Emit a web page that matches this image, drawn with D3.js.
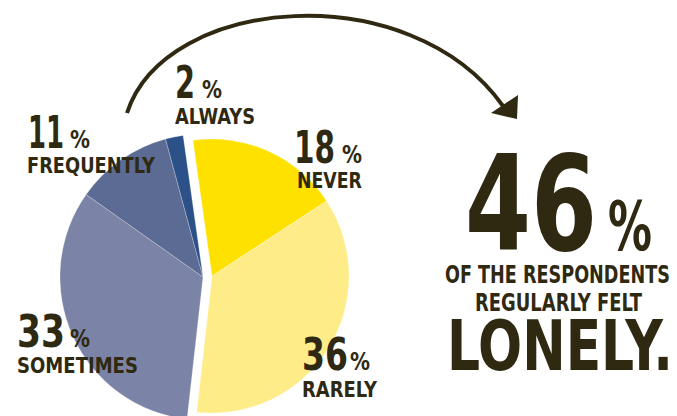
<!DOCTYPE html>
<html>
<head>
<meta charset="utf-8">
<script src="https://cdn.jsdelivr.net/npm/d3@7"></script>
<style>
  body { margin: 0; background: #fff; }
  text { font-family: "Liberation Sans Narrow", "DejaVu Sans Condensed", "Liberation Sans", sans-serif; font-weight: bold; fill: #2f2912; }
</style>
</head>
<body>
<div id="chart"></div>
<script>
// survey answers, clockwise from the top
var categories = ["NEVER", "RARELY", "SOMETIMES", "FREQUENTLY", "ALWAYS"];
var values = [18, 36, 33, 11, 2];
var groups = ["no", "no", "yes", "yes", "yes"];   // yes = regularly lonely
var headline = 46;
var headlineLines = ["OF THE RESPONDENTS", "REGULARLY FELT", "LONELY."];

var width = 677, height = 416;
var colors = ["#ffe100", "#feec88", "#7b83a6", "#5b6b93", "#2c5188"];

// two half pies, the "no" half is pulled out a little
var centers = { yes: [203, 277, 143], no: [212, 276, 137] };

// label layout: [num x, num baseline, num width, pct x, word x, word baseline, word width]
var labelPos = [
  [294, 163, 41, 342, 297, 188, 65],
  [302, 370, 46, 350, 302, 397, 75],
  [17, 347, 48, 70, 17, 373, 121],
  [28, 148, 36, 70, 27, 173, 128],
  [175, 98, 20, 202, 175, 124, 80]
];

var svg = d3.select("#chart").append("svg")
    .attr("width", width)
    .attr("height", height);

var deg = Math.PI / 180;
var pie = d3.pie()
    .sort(null)
    .startAngle(-8 * deg)
    .endAngle(352 * deg);

var arcs = pie(values);

arcs.forEach(function(d, i) {
  var c = centers[groups[i]];
  var arc = d3.arc().innerRadius(0).outerRadius(c[2]);
  svg.append("path")
      .attr("transform", "translate(" + c[0] + "," + c[1] + ")")
      .attr("d", arc(d))
      .attr("fill", colors[i])
      .attr("stroke", "rgba(255,255,255,0.35)")
      .attr("stroke-width", 0.7);
});

// squeeze text horizontally to a given width (the original face is condensed)
function fitText(str, x, y, size, w) {
  var t = svg.append("text")
      .attr("font-size", size)
      .text(str);
  var natural = t.node().getComputedTextLength();
  t.attr("transform", "translate(" + x + "," + y + ") scale(" + (w / natural) + ",1)");
  return t;
}

// slice labels
categories.forEach(function(name, i) {
  var p = labelPos[i];
  fitText(values[i], p[0], p[1], 45, p[2]);
  fitText("%", p[3], p[1], 25, 20);
  fitText(name, p[4], p[5], 22, p[6]);
});

// curved arrow from the blue half to the headline
svg.append("path")
    .attr("d", "M127,113 C165,-5 410,-25 503,106")
    .attr("fill", "none")
    .attr("stroke", "#2f2912")
    .attr("stroke-width", 4);
svg.append("path")
    .attr("d", "M491,113 L518,95 L517,119 Z")
    .attr("fill", "#2f2912");

// headline block
fitText(headline, 465, 250, 132, 132);
fitText("%", 608, 250, 68, 44);

var lineLayout = [[445, 283, 225, 25], [475, 311, 167, 25], [447, 370, 226, 69]];
headlineLines.forEach(function(t, i) {
  var l = lineLayout[i];
  fitText(t, l[0], l[1], l[3], l[2]);
});
</script>
</body>
</html>
